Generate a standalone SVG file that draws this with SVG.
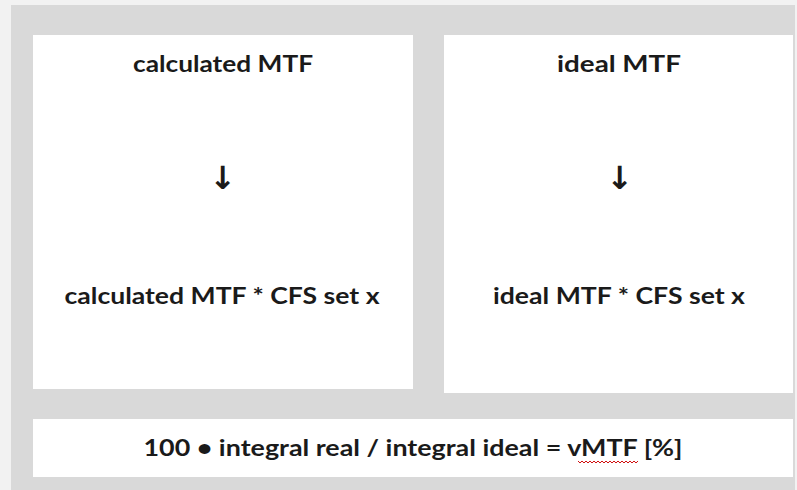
<svg xmlns="http://www.w3.org/2000/svg" width="797" height="490" viewBox="0 0 797 490">
  <style>
    .panel { fill: #ffffff; }
    .label { font-family: Lato, "Open Sans", "Liberation Sans", sans-serif; font-weight: bold; font-size: 22.5px; fill: #1a1a1a; text-anchor: middle; }
    .arrow { font-family: "DejaVu Sans", sans-serif; font-weight: bold; font-size: 32px; fill: #1a1a1a; text-anchor: middle; }
  </style>
  <rect x="0" y="0" width="797" height="490" fill="#f2f2f2"/>
  <rect x="11" y="5" width="784" height="485" fill="#d9d9d9"/>

  <g id="calculated">
    <rect class="panel" x="33" y="35" width="380" height="354"/>
    <text class="label" x="223" y="72" textLength="180" lengthAdjust="spacingAndGlyphs">calculated MTF</text>
    <text class="arrow" x="223" y="189">↓</text>
    <text class="label" x="222" y="304" textLength="315" lengthAdjust="spacingAndGlyphs">calculated MTF * CFS set x</text>
  </g>

  <g id="ideal">
    <rect class="panel" x="444" y="35" width="349" height="358"/>
    <text class="label" x="619" y="72" textLength="124" lengthAdjust="spacingAndGlyphs">ideal MTF</text>
    <text class="arrow" x="620" y="189">↓</text>
    <text class="label" x="619" y="304" textLength="252" lengthAdjust="spacingAndGlyphs">ideal MTF * CFS set x</text>
  </g>

  <g id="result">
    <rect class="panel" x="33" y="419" width="760" height="58"/>
    <text class="label" x="413" y="456" textLength="539" lengthAdjust="spacingAndGlyphs">100 • integral real / integral ideal = vMTF [%]</text>
    <path d="M578 461 l2 2 l2 -2 l2 2 l2 -2 l2 2 l2 -2 l2 2 l2 -2 l2 2 l2 -2 l2 2 l2 -2 l2 2 l2 -2 l2 2 l2 -2 l2 2 l2 -2 l2 2 l2 -2 l2 2 l2 -2 l2 2 l2 -2 l2 2 l2 -2 l2 2 l2 -2 l2 2 l2 -2" fill="none" stroke="#d01010" stroke-width="1"/>
  </g>

  <g id="connectors"></g>
</svg>
